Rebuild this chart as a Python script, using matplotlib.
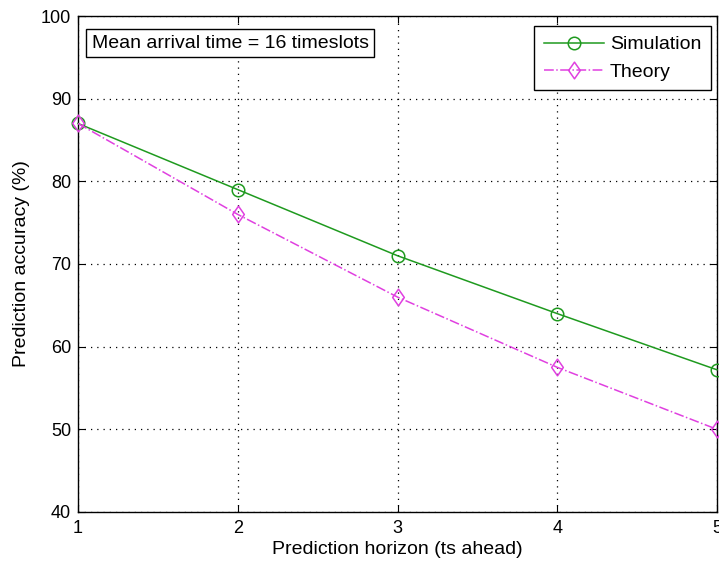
import matplotlib
matplotlib.use("Agg")
import matplotlib.pyplot as plt
from matplotlib.path import Path

horizon = [1, 2, 3, 4, 5]
simulation = [87.0, 79.0, 71.0, 64.0, 57.2]
theory = [87.0, 76.0, 66.0, 57.5, 50.0]
xticks = [1, 2, 3, 4, 5]
yticks = [40, 50, 60, 70, 80, 90, 100]

plt.rcParams['font.family'] = ['Liberation Sans', 'DejaVu Sans']

W, H = 719, 568
fig = plt.figure(figsize=(W / 100, H / 100), dpi=100)
L, R, T, B = 78, 717, 16, 512
ax = fig.add_axes([L / W, 1 - B / H, (R - L) / W, (B - T) / H])

diamond = Path([(0, 1), (0.7, 0), (0, -1), (-0.7, 0), (0, 1)],
               [Path.MOVETO, Path.LINETO, Path.LINETO, Path.LINETO, Path.CLOSEPOLY])

green = '#1f9a1f'
magenta = '#e040e0'
ax.plot(horizon, simulation, '-', color=green, lw=1.1, marker='o', ms=9,
        mfc='none', mec=green, mew=1.1, label='Simulation', clip_on=False, zorder=3)
ax.plot(horizon, theory, '-.', color=magenta, lw=1.1, marker=diamond, ms=12,
        mfc='none', mec=magenta, mew=1.1, label='Theory', clip_on=False, zorder=3)

ax.set_xlim(1, 5)
ax.set_ylim(40, 100)
ax.set_xticks(xticks)
ax.set_yticks(yticks)
ax.tick_params(direction='in', length=5, labelsize=13, top=True, right=True)
ax.tick_params(axis='x', pad=6)
ax.tick_params(axis='y', pad=5)
ax.grid(True, linestyle=(0, (1, 4)), color='black', lw=0.9)
for s in ax.spines.values():
    s.set_linewidth(1.0)

ax.set_xlabel('Prediction horizon (ts ahead)', fontsize=14, labelpad=3)
ax.set_ylabel('Prediction accuracy (%)', fontsize=14, labelpad=8)

ax.text((230 - L) / (R - L), 1 - (43 - T) / (B - T), 'Mean arrival time = 16 timeslots',
        transform=ax.transAxes, fontsize=14, ha='center', va='center',
        bbox=dict(boxstyle='square,pad=0.3', fc='white', ec='black', lw=1.0))

leg = ax.legend(loc='upper right',
                bbox_to_anchor=((711 - L) / (R - L), 1 - (26 - T) / (B - T)),
                borderaxespad=0, fontsize=14,
                fancybox=False, edgecolor='black', framealpha=1, handlelength=3.1,
                borderpad=0.5, labelspacing=0.5, handletextpad=0.3)
leg.get_frame().set_linewidth(1.0)

fig.savefig('out.png', dpi=100)
